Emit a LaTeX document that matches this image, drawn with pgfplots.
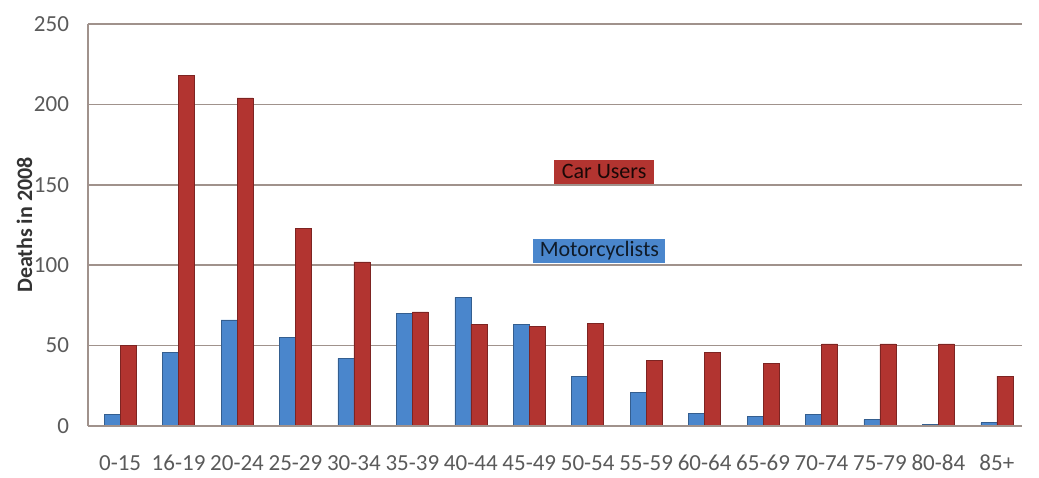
\documentclass[border=0pt]{standalone}
\usepackage{pgfplots}
\pgfplotsset{compat=1.18}
\usepackage{fontspec}
\setmainfont{Carlito}
\definecolor{motoblue}{RGB}{74,134,204}
\definecolor{carred}{RGB}{178,52,48}
\definecolor{gridbrown}{RGB}{160,146,140}
\definecolor{ticktext}{RGB}{90,90,90}

\begin{document}
\begin{tikzpicture}
\begin{axis}[
  scale only axis,
  width=467pt, height=201pt,
  ybar=0pt, bar width=8pt,
  ymin=0, ymax=250,
  xmin=-0.55, xmax=15.43,
  ytick={0,50,...,250},
  xtick={0,...,15},
  ymajorgrids,
  grid style={gridbrown, line width=0.8pt},
  axis x line=none,
  axis y line*=left,
  axis line style={gridbrown, line width=0.8pt},
  y axis line style={-},
  major tick length=0pt,
  ticklabel style={font=\fontsize{11.5}{13}\selectfont, text=ticktext},
  /pgf/number format/assume math mode=true,
  yticklabel style={xshift=-6pt},
  ylabel={\textbf{Deaths in 2008}},
  ylabel style={font=\fontsize{11}{13}\selectfont, text=black!80, yshift=-6pt},
  clip=false,
]
% motorcyclists
\addplot[fill=motoblue, draw=motoblue!70!black, line width=0.3pt] coordinates {
(0,7) (1,46) (2,66) (3,55) (4,42) (5,70) (6,80) (7,63)
(8,31) (9,21) (10,8) (11,6) (12,7) (13,4) (14,1) (15,2)};
% car users
\addplot[fill=carred, draw=carred!70!black, line width=0.3pt] coordinates {
(0,50) (1,218) (2,204) (3,123) (4,102) (5,71) (6,63) (7,62)
(8,64) (9,41) (10,46) (11,39) (12,51) (13,51) (14,51) (15,31)};
% age-group labels below the zero line
\foreach \i/\lab in {0/0-15,1/16-19,2/20-24,3/25-29,4/30-34,5/35-39,6/40-44,7/45-49,8/50-54,9/55-59,10/60-64,11/65-69,12/70-74,13/75-79,14/80-84,15/85+}{
  \edef\temp{\noexpand\node[font=\noexpand\fontsize{11.5}{13}\noexpand\selectfont, text=ticktext, anchor=center] at (axis cs:\i,-23) {\lab};}
  \temp
}
\draw[gridbrown, line width=0.8pt] (axis cs:-0.55,0) -- (axis cs:15.43,0);
\node[fill=carred, minimum width=50pt, minimum height=12pt, inner sep=1pt,
      font=\fontsize{11}{13}\selectfont, text=black!85!carred] at (axis cs:8.28,158) {Car Users};
\node[fill=motoblue, minimum width=66pt, minimum height=12pt, inner sep=1pt,
      font=\fontsize{11}{13}\selectfont, text=black!80!motoblue] at (axis cs:8.2,109) {Motorcyclists};
\path (rel axis cs:-0.0942,-0.126) rectangle (rel axis cs:1.0182,1.0597);
\end{axis}
\end{tikzpicture}
\end{document}
